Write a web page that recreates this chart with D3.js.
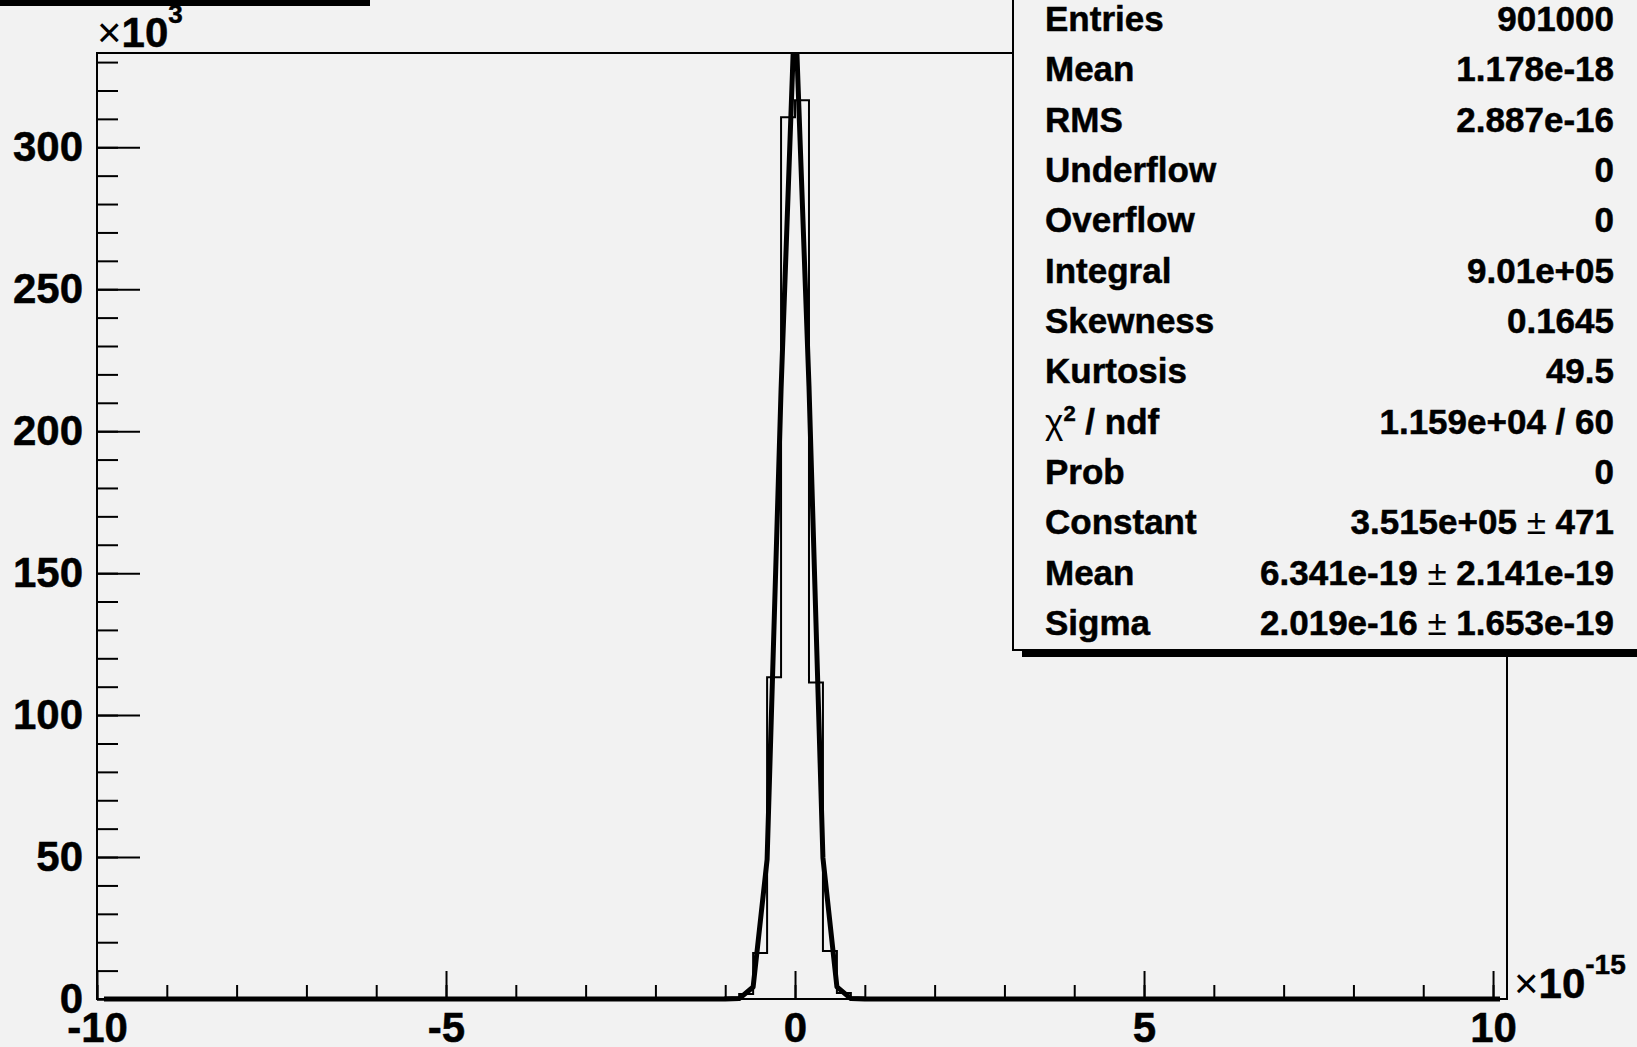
<!DOCTYPE html>
<html>
<head>
<meta charset="utf-8">
<script src="https://cdn.jsdelivr.net/npm/d3@7"></script>
<style>
  body { margin: 0; background: #f2f2f2; }
  svg { display: block; }
  text { font-family: "Liberation Sans", Arial, sans-serif; font-weight: bold; fill: #000; }
  .heavy { stroke: #000; stroke-width: 0.5px; }
</style>
</head>
<body>
<svg></svg>
<script>
// Canvas and frame
var canvasSize = {width: 1637, height: 1047}
var frame = {left: 97, right: 1507, top: 53, bottom: 999}

// Histogram (x in units of 1e-15, counts in units of 1e3), bin width 0.2
var xRange = [-10, 10.2]
var yRange = [0, 333.2]
var binWidth = 0.2
var binLow   = [-1.0, -0.8, -0.6, -0.4, -0.2,   0.0,   0.2,   0.4,  0.6, 0.8]
var binCount = [ 0.5,  1.8, 16.2, 113.3, 310.6, 316.6, 111.5, 16.9, 2.1, 0.5]

// Gaussian fit curve as drawn (sampled every 0.2), counts in 1e3
var fitX = [-9.9, -1.0, -0.8, -0.6, -0.4, -0.2,  0.0,   0.2,  0.4,  0.6,  0.8, 1.0, 10.1]
var fitY = [ 0.0,  0.0,  0.14, 4.21, 49.1, 214.6, 351.5, 215.9, 49.7, 4.29, 0.14, 0.0, 0.0]

// Axis ticks
var xMajorTicks = [-10, -5, 0, 5, 10]
var xMinorTicks = d3.range(-10, 11, 1)
var yMajorTicks = [0, 50, 100, 150, 200, 250, 300]
var yMinorTicks = d3.range(0, 331, 10)

// Stats box
var statLabels = ["Entries", "Mean", "RMS", "Underflow", "Overflow", "Integral", "Skewness",
                  "Kurtosis", "χ2 / ndf", "Prob", "Constant", "Mean", "Sigma"]
var statValues = ["901000", "1.178e-18", "2.887e-16", "0", "0", "9.01e+05", "0.1645",
                  "49.5", "1.159e+04 / 60", "0", "3.515e+05 ± 471", "6.341e-19 ± 2.141e-19",
                  "2.019e-16 ± 1.653e-19"]

var svg = d3.select("svg")
    .attr("width", canvasSize.width)
    .attr("height", canvasSize.height)

svg.append("rect")
    .attr("width", canvasSize.width).attr("height", canvasSize.height)
    .attr("fill", "#f2f2f2")

var x = d3.scaleLinear().domain(xRange).range([frame.left, frame.right])
var y = d3.scaleLinear().domain(yRange).range([frame.bottom, frame.top])

// Title box remnant at top-left
svg.append("rect").attr("x", 0).attr("y", 0).attr("width", 370).attr("height", 6).attr("fill", "#000")

// Ticks (inward)
function tickStyle(g) {
    g.select(".domain").remove()
    g.selectAll("line").attr("stroke", "#000").attr("stroke-width", 2)
    g.selectAll("text").remove()
}
svg.append("g").attr("transform", `translate(0,${frame.bottom})`)
    .call(d3.axisTop(x).tickValues(xMinorTicks).tickSize(14)).call(tickStyle)
svg.append("g").attr("transform", `translate(0,${frame.bottom})`)
    .call(d3.axisTop(x).tickValues(xMajorTicks).tickSize(28)).call(tickStyle)
svg.append("g").attr("transform", `translate(${frame.left},0)`)
    .call(d3.axisRight(y).tickValues(yMinorTicks).tickSize(21)).call(tickStyle)
svg.append("g").attr("transform", `translate(${frame.left},0)`)
    .call(d3.axisRight(y).tickValues(yMajorTicks).tickSize(43)).call(tickStyle)

// Tick labels
function labelStyle(g) {
    g.select(".domain").remove()
    g.selectAll("line").remove()
    g.selectAll("text")
        .attr("class", "heavy")
        .attr("font-family", '"Liberation Sans", Arial, sans-serif')
        .attr("font-weight", "bold")
        .attr("font-size", 42)
        .attr("fill", "#000")
}
svg.append("g").attr("transform", `translate(0,${frame.bottom})`)
    .call(d3.axisBottom(x).tickValues(xMajorTicks).tickSize(0).tickPadding(13).tickFormat(d => String(d)))
    .call(labelStyle)
svg.append("g").attr("transform", `translate(${frame.left},0)`)
    .call(d3.axisLeft(y).tickValues(yMajorTicks).tickSize(0).tickPadding(14).tickFormat(d => String(d)))
    .call(labelStyle)

// Clip to frame (a little below the bottom so the thick fit line shows fully at zero)
svg.append("clipPath").attr("id", "clip")
    .append("rect")
    .attr("x", frame.left).attr("y", frame.top)
    .attr("width", frame.right - frame.left).attr("height", frame.bottom - frame.top + 4)

// Histogram outline as steps
var histPts = [[xRange[0], 0], [binLow[0], 0]]
binLow.forEach((lo, i) => {
    histPts.push([lo, binCount[i]])
    histPts.push([lo + binWidth, binCount[i]])
})
histPts.push([binLow[binLow.length - 1] + binWidth, 0])
histPts.push([xRange[1], 0])

var line = d3.line().x(d => x(d[0])).y(d => y(d[1]))

svg.append("path")
    .attr("clip-path", "url(#clip)")
    .attr("d", line(histPts))
    .attr("fill", "none")
    .attr("stroke", "#000")
    .attr("stroke-width", 2)

// Frame
svg.append("rect")
    .attr("x", frame.left).attr("y", frame.top)
    .attr("width", frame.right - frame.left).attr("height", frame.bottom - frame.top)
    .attr("fill", "none").attr("stroke", "#000").attr("stroke-width", 2)

// Fit curve
svg.append("path")
    .attr("clip-path", "url(#clip)")
    .attr("d", line(fitX.map((v, i) => [v, fitY[i]])))
    .attr("fill", "none")
    .attr("stroke", "#000")
    .attr("stroke-width", 5)
    .attr("stroke-linejoin", "round")

// Axis exponents
var yExp = svg.append("text").attr("x", frame.left).attr("y", 47).attr("font-size", 42)
yExp.append("tspan").attr("font-weight", "normal").text("×")
yExp.append("tspan").attr("class", "heavy").text("10")
yExp.append("tspan").attr("class", "heavy").attr("font-size", 26).attr("dy", -24).text("3")

var xExp = svg.append("text").attr("x", 1514).attr("y", 998).attr("font-size", 42)
xExp.append("tspan").attr("font-weight", "normal").text("×")
xExp.append("tspan").attr("class", "heavy").text("10")
xExp.append("tspan").attr("class", "heavy").attr("font-size", 28).attr("dy", -24).text("-15")

// Stats box with shadow
var box = {left: 1013, top: -10, bottom: 650}
svg.append("rect")
    .attr("x", box.left + 9).attr("y", box.bottom)
    .attr("width", canvasSize.width).attr("height", 7)
    .attr("fill", "#000")
svg.append("rect")
    .attr("x", box.left).attr("y", box.top)
    .attr("width", canvasSize.width).attr("height", box.bottom - box.top)
    .attr("fill", "#f2f2f2").attr("stroke", "#000").attr("stroke-width", 2)

var rowY = d3.scaleLinear().domain([0, statLabels.length - 1]).range([31, 635])
var statFont = 35

statLabels.forEach((lab, i) => {
    var t = svg.append("text").attr("x", 1045).attr("y", rowY(i)).attr("font-size", statFont)
    if (lab.startsWith("χ")) {
        t.append("tspan").attr("font-weight", "normal").text("χ")
        t.append("tspan").attr("class", "heavy").attr("font-size", 22).attr("dy", -13).text("2")
        t.append("tspan").attr("class", "heavy").attr("dy", 13).text(" / ndf")
    } else {
        t.attr("class", "heavy").text(lab)
    }
    var v = svg.append("text").attr("x", 1614).attr("y", rowY(i))
        .attr("font-size", statFont).attr("text-anchor", "end")
    var parts = statValues[i].split(" ± ")
    if (parts.length == 2) {
        v.append("tspan").attr("class", "heavy").text(parts[0] + " ")
        v.append("tspan").attr("font-weight", "normal").text("±")
        v.append("tspan").attr("class", "heavy").text(" " + parts[1])
    } else {
        v.attr("class", "heavy").text(statValues[i])
    }
})
</script>
</body>
</html>
